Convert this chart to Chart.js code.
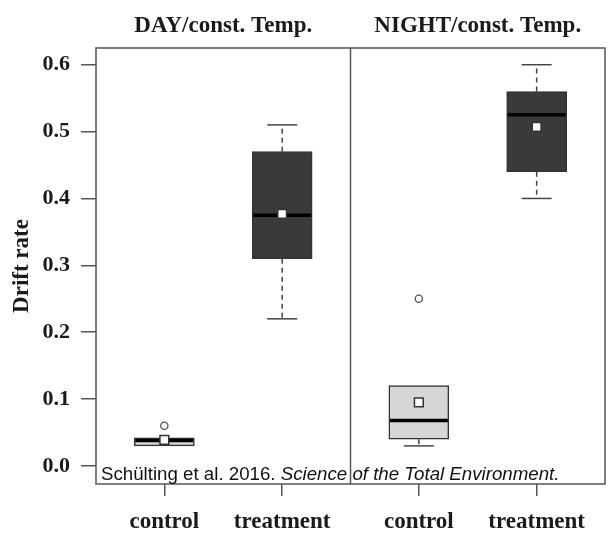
<!DOCTYPE html>
<html>
<head>
<meta charset="utf-8">
<script src="https://cdn.jsdelivr.net/npm/chart.js@4"></script>
<style>
  body { margin: 0; background: #fff; }
</style>
</head>
<body>
<canvas id="box-chart" width="609" height="536"></canvas>
<script>
// panels and groups
const panels = ["DAY/const. Temp.", "NIGHT/const. Temp."];
const groups = ["control", "treatment"];

// box statistics, order: DAY control, DAY treatment, NIGHT control, NIGHT treatment
const whiskerLow = [0.03, 0.22, 0.03, 0.40];
const q1 = [0.03, 0.31, 0.04, 0.44];
const medians = [0.038, 0.375, 0.068, 0.525];
const q3 = [0.042, 0.47, 0.12, 0.56];
const whiskerHigh = [0.042, 0.51, 0.12, 0.60];
const means = [0.039, 0.377, 0.095, 0.507];
const outliers = [0.06, null, 0.25, null];

const yTicks = [0.0, 0.1, 0.2, 0.3, 0.4, 0.5, 0.6];

// each panel is 0.42..2.58 in R units, boxes at 1 and 2
const panelSpan = 2.16;
const boxX = [];
panels.forEach((p, pi) => {
  groups.forEach((g, gi) => {
    boxX.push(pi * panelSpan + gi + 1);
  });
});

const serif = "'Liberation Serif', 'Times New Roman', serif";
const fillColors = ["#d6d6d6", "#3a3a3a", "#d6d6d6", "#3a3a3a"];

const whiskerData = [];
const capData = [];
boxX.forEach((x, i) => {
  if (whiskerHigh[i] > q3[i]) {
    whiskerData.push({ x: x, y: q3[i] }, { x: x, y: whiskerHigh[i] }, { x: x, y: null });
    capData.push({ x: x, y: whiskerHigh[i] });
  }
  if (whiskerLow[i] < q1[i]) {
    whiskerData.push({ x: x, y: q1[i] }, { x: x, y: whiskerLow[i] }, { x: x, y: null });
    capData.push({ x: x, y: whiskerLow[i] });
  }
});

const framePlugin = {
  id: "frame",
  afterDatasetsDraw(chart) {
    const ctx = chart.ctx;
    const a = chart.chartArea;
    const xs = chart.scales.x;
    const mid = xs.getPixelForValue(panelSpan + 0.42);
    ctx.save();
    ctx.strokeStyle = "#555";
    ctx.lineWidth = 1.5;
    ctx.strokeRect(a.left, a.top, a.right - a.left, a.bottom - a.top);
    ctx.beginPath();
    ctx.moveTo(mid, a.top);
    ctx.lineTo(mid, a.bottom);
    ctx.stroke();
    // panel titles
    ctx.fillStyle = "#1a1a1a";
    ctx.font = "bold 23px " + serif;
    ctx.textAlign = "center";
    ctx.textBaseline = "alphabetic";
    panels.forEach((p, pi) => {
      const cx = xs.getPixelForValue(pi * panelSpan + 1.5);
      ctx.fillText(p, cx, 32);
    });
    ctx.restore();
  },
  afterDraw(chart) {
    const ctx = chart.ctx;
    const a = chart.chartArea;
    ctx.save();
    ctx.fillStyle = "#111";
    ctx.textBaseline = "alphabetic";
    ctx.textAlign = "left";
    let x = a.left + 5;
    const y = a.bottom - 4;
    ctx.font = "18.7px 'Liberation Sans', Arial, sans-serif";
    const first = "Schülting et al. 2016. ";
    ctx.fillText(first, x, y);
    x += ctx.measureText(first).width;
    ctx.font = "italic 18.7px 'Liberation Sans', Arial, sans-serif";
    ctx.fillText("Science of the Total Environment.", x, y);
    ctx.restore();
  }
};

new Chart(document.getElementById("box-chart"), {
  type: "bar",
  data: {
    datasets: [
      {
        type: "line",
        data: whiskerData,
        borderColor: "#444",
        borderWidth: 1.5,
        borderDash: [5, 4],
        pointRadius: 0,
        spanGaps: false,
        order: 6,
      },
      {
        type: "scatter",
        data: capData,
        pointStyle: "line",
        pointRadius: 15,
        borderColor: "#444",
        pointBorderWidth: 1.5,
        order: 5,
      },
      {
        type: "bar",
        data: boxX.map((x, i) => ({ x: x, y: [q1[i], q3[i]] })),
        backgroundColor: fillColors,
        borderColor: "#333",
        borderWidth: 1.5,
        borderSkipped: false,
        barThickness: 60,
        order: 4,
      },
      {
        type: "scatter",
        data: boxX.map((x, i) => ({ x: x, y: medians[i] })),
        pointStyle: "line",
        pointRadius: 29,
        borderColor: "#000",
        pointBorderWidth: 3.5,
        order: 3,
      },
      {
        type: "scatter",
        data: boxX.map((x, i) => ({ x: x, y: means[i] })),
        pointStyle: "rect",
        pointRadius: 6.2,
        backgroundColor: "#fff",
        borderColor: "#333",
        pointBorderWidth: 1.5,
        order: 2,
      },
      {
        type: "scatter",
        data: boxX.map((x, i) => ({ x: x, y: outliers[i] })).filter(d => d.y !== null),
        pointStyle: "circle",
        pointRadius: 3.6,
        backgroundColor: "#fff",
        borderColor: "#555",
        pointBorderWidth: 1.3,
        order: 1,
      },
    ],
  },
  options: {
    responsive: false,
    animation: false,
    events: [],
    layout: { autoPadding: false, padding: { top: 48, right: 4, left: 0, bottom: 0 } },
    plugins: {
      legend: { display: false },
      tooltip: { enabled: false },
    },
    scales: {
      x: {
        type: "linear",
        min: 0.42,
        max: panelSpan * 2 + 0.42,
        offset: false,
        grid: { offset: false, drawOnChartArea: false, drawTicks: true, tickLength: 12, color: "#555", lineWidth: 1.5 },
        border: { display: false },
        afterBuildTicks: (scale) => {
          scale.ticks = boxX.map((v) => ({ value: v }));
        },
        afterFit: (scale) => {
          scale.height = 52;
          scale.paddingLeft = 0;
          scale.paddingRight = 0;
        },
        ticks: {
          autoSkip: false,
          maxRotation: 0,
          padding: 12,
          color: "#1a1a1a",
          font: { family: serif, size: 23, weight: "bold" },
          callback: (v) => {
            const i = boxX.indexOf(v);
            return i >= 0 ? groups[i % 2] : "";
          },
        },
      },
      y: {
        min: -0.027,
        max: 0.625,
        grid: { drawOnChartArea: false, drawTicks: true, tickLength: 15, color: "#555", lineWidth: 1.5 },
        border: { display: false },
        afterBuildTicks: (scale) => {
          scale.ticks = yTicks.map((v) => ({ value: v }));
        },
        afterFit: (scale) => {
          scale.width = 96;
          scale.paddingTop = 0;
          scale.paddingBottom = 0;
        },
        ticks: {
          padding: 11,
          color: "#1a1a1a",
          font: { family: serif, size: 22, weight: "bold" },
          callback: (v) => Number(v).toFixed(1),
        },
        title: {
          display: true,
          text: "Drift rate",
          color: "#1a1a1a",
          padding: { top: 8, bottom: 0 },
          font: { family: serif, size: 23, weight: "bold" },
        },
      },
    },
  },
  plugins: [framePlugin],
});
</script>
</body>
</html>
